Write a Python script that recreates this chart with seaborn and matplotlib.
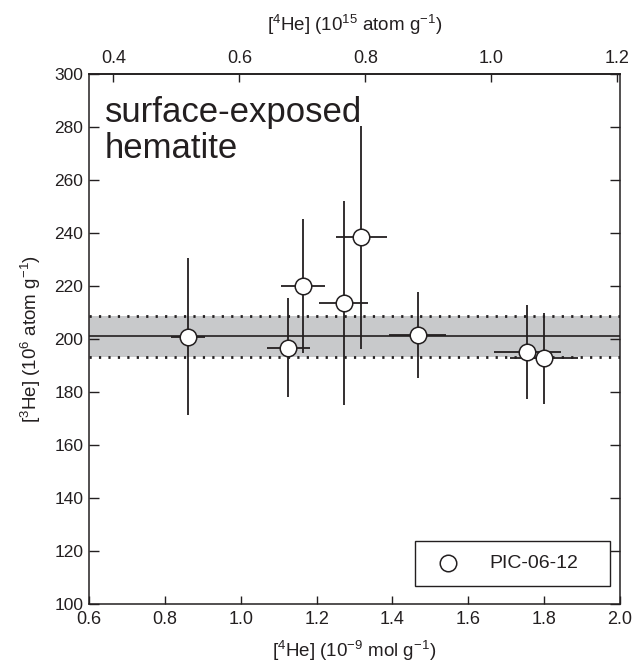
import matplotlib
matplotlib.use("Agg")
import matplotlib.pyplot as plt
import numpy as np
import pandas as pd
import seaborn as sns

# [4He] in 1e-9 mol/g and [3He] in 1e6 atom/g, with 1-sigma errors
he4_mol = [0.862, 1.125, 1.164, 1.271, 1.318, 1.467, 1.756, 1.800]
he4_err = [0.045, 0.057, 0.059, 0.064, 0.067, 0.075, 0.089, 0.090]
he3 = [200.9, 196.7, 220.0, 213.5, 238.4, 201.5, 195.2, 192.7]
he3_err = [29.5, 18.7, 25.1, 38.5, 42.0, 16.2, 17.8, 17.3]

# weighted mean and its uncertainty band
he3_mean = 201.0
he3_band = (193.3, 208.7)

sample = "PIC-06-12"
avogadro_scale = 0.6022  # 1e-9 mol -> 1e15 atom

top_ticks = [0.4, 0.6, 0.8, 1.0, 1.2]
bottom_ticks = [0.6, 0.8, 1.0, 1.2, 1.4, 1.6, 1.8, 2.0]
left_ticks = list(range(100, 301, 20))

df = pd.DataFrame({"he4": he4_mol, "he4_err": he4_err, "he3": he3, "he3_err": he3_err})

sns.set_theme(style="ticks")
plt.rcParams["font.family"] = ["Liberation Sans", "DejaVu Sans"]
plt.rcParams["mathtext.fontset"] = "custom"
plt.rcParams["mathtext.rm"] = "Liberation Sans"
plt.rcParams["mathtext.it"] = "Liberation Sans:italic"
plt.rcParams["mathtext.bf"] = "Liberation Sans:bold"
plt.rcParams["mathtext.default"] = "regular"

fig = plt.figure(figsize=(6.35, 6.68), dpi=100)
ax = fig.add_axes([0.1402, 0.0958, 0.8362, 0.7934])

ink = "#231f20"

# mean band
ax.axhspan(he3_band[0], he3_band[1], color="#c8c9cb", lw=0, zorder=0)
ax.axhline(he3_mean, color=ink, lw=1.2, zorder=1)
for yb in he3_band:
    ax.axhline(yb, color=ink, lw=2.0, ls=(0, (0.8, 2.6)), zorder=1)

ax.errorbar(df["he4"], df["he3"], xerr=df["he4_err"], yerr=df["he3_err"],
            fmt="none", ecolor=ink, elinewidth=1.3, capsize=0, zorder=2)
sns.scatterplot(data=df, x="he4", y="he3", ax=ax, s=16.5 ** 2 * 0.52,
                marker="o", facecolor="white", edgecolor=ink, linewidth=1.1,
                label=sample, zorder=3)

ax.text(0.03, 0.958, "surface-exposed\nhematite", transform=ax.transAxes,
        fontsize=25, va="top", ha="left", color=ink, linespacing=1.12)

ax.set_xlim(0.6, 2.0)
ax.set_ylim(100, 300)
ax.set_xticks(bottom_ticks)
ax.set_xticklabels([f"{v:.1f}" for v in bottom_ticks])
ax.set_yticks(left_ticks)
ax.set_xlabel(r"[$^{4}$He] (10$^{-9}$ mol g$^{-1}$)", fontsize=13.5, color=ink, labelpad=8)
ax.set_ylabel(r"[$^{3}$He] (10$^{6}$ atom g$^{-1}$)", fontsize=13.5, color=ink, labelpad=8)
ax.tick_params(axis="x", direction="in", length=5.5, width=1, labelsize=13,
               colors=ink, pad=5)
ax.tick_params(axis="y", direction="in", length=7, width=1, labelsize=12.5,
               colors=ink, left=True, right=True, pad=4)
for s in ax.spines.values():
    s.set_visible(True)
    s.set_linewidth(1.1)
    s.set_color(ink)

sec = ax.secondary_xaxis("top", functions=(lambda x: x * avogadro_scale,
                                           lambda x: x / avogadro_scale))
sec.set_xticks(top_ticks)
sec.set_xticklabels([f"{v:.1f}" for v in top_ticks])
sec.tick_params(direction="in", length=5.5, width=1, labelsize=13, colors=ink, pad=5)
sec.set_xlabel(r"[$^{4}$He] (10$^{15}$ atom g$^{-1}$)", fontsize=13.5, color=ink, labelpad=14)

leg = ax.legend(loc="center", bbox_to_anchor=(0.614, 0.026, 0.367, 0.102),
                mode="expand", borderaxespad=0, fontsize=14, frameon=True,
                fancybox=False, edgecolor=ink, framealpha=1, borderpad=0.7,
                handlelength=2.0, handletextpad=1.1, markerscale=1.0)
leg.get_frame().set_linewidth(1.0)
for t in leg.get_texts():
    t.set_color(ink)

fig.savefig("out.png", dpi=100)
